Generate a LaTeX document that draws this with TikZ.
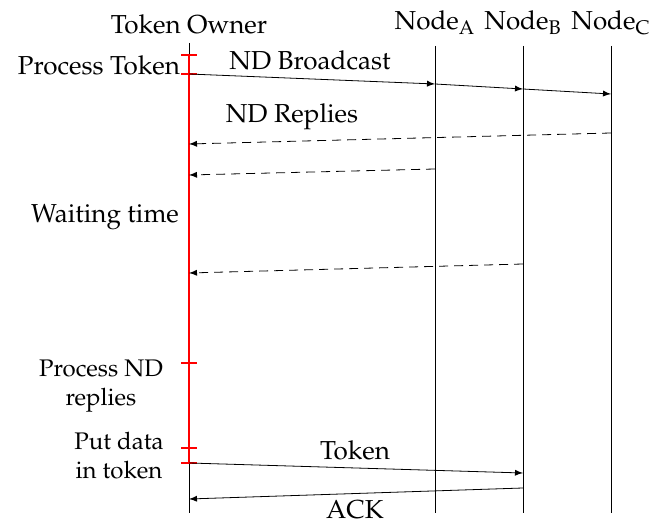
\documentclass[tikz,border=0pt]{standalone}
\usepackage[T1]{fontenc}
\usepackage{mathpazo}
\usepackage{tikz}

\tikzset{
  msg/.style={->, black},
  reply/.style={->, black, dash pattern=on 4.5pt off 3pt},
  lifeline/.style={black},
  busy/.style={draw=red, line width=0.6pt},
  small text/.style={font=\fontsize{12}{14.5}\selectfont, align=center}
}

\begin{document}
\begin{tikzpicture}[x=0.5pt, y=-0.5pt, >=latex, font=\fontsize{13}{15}\selectfont]
\useasboundingbox (0,0) rectangle (649,523);

% heads of the lifelines
\node (owner) at (189,24) {Token Owner};
\node (nodeA) at (435,23) {Node$_{\mathrm{A}}$};
\node (nodeB) at (523,23) {Node$_{\mathrm{B}}$};
\node (nodeC) at (611,23) {Node$_{\mathrm{C}}$};

% lifelines
\coordinate (T0) at (189,43);
\coordinate (T1) at (189,513);
\coordinate (A0) at (435,46);
\coordinate (A1) at (435,513);
\coordinate (B0) at (523,46);
\coordinate (B1) at (523,513);
\coordinate (C0) at (611,46);
\coordinate (C1) at (611,513);
\draw[lifeline] (T0) -- (T1);
\draw[lifeline] (A0) -- (A1);
\draw[lifeline] (B0) -- (B1);
\draw[lifeline] (C0) -- (C1);

% token owner busy
\coordinate (R0) at (189,55);
\coordinate (R1) at (189,463);
\draw[busy] (R0) -- (R1);
\foreach \y in {55,74,363,448,463}{
    \draw[busy] (181,\y) -- (197,\y);
}

% ND broadcast
\coordinate (bc0) at (189,74);
\coordinate (bcA) at (435,84);
\coordinate (bcB) at (523,89);
\coordinate (bcC) at (611,94);
\draw[msg] (bc0) -- (bcA);
\draw[msg] (bcA) -- (bcB);
\draw[msg] (bcB) -- (bcC);

% ND replies
\coordinate (rC) at (611,133);
\coordinate (rC1) at (189,144);
\coordinate (rA) at (435,169);
\coordinate (rA1) at (189,175);
\coordinate (rB) at (523,264);
\coordinate (rB1) at (189,273);
\draw[reply] (rC) -- (rC1);
\draw[reply] (rA) -- (rA1);
\draw[reply] (rB) -- (rB1);

% token and ack
\coordinate (tk0) at (189,463);
\coordinate (tk1) at (523,473);
\coordinate (ak0) at (523,488);
\coordinate (ak1) at (189,499);
\draw[msg] (tk0) -- (tk1);
\draw[msg] (ak0) -- (ak1);

% labels
\node[anchor=east] (proctok) at (187,65) {Process Token};
\node (bcast) at (310,60) {ND Broadcast};
\node (replies) at (292,117) {ND Replies};
\node[anchor=east] (wait) at (186,217) {Waiting time};
\node[small text] (procnd) at (101,386) {Process ND\\replies};
\node[small text] (putdata) at (119,456) {Put data\\in token};
\node (token) at (355,450) {Token};
\node (ack) at (355,510) {ACK};
\end{tikzpicture}
\end{document}
